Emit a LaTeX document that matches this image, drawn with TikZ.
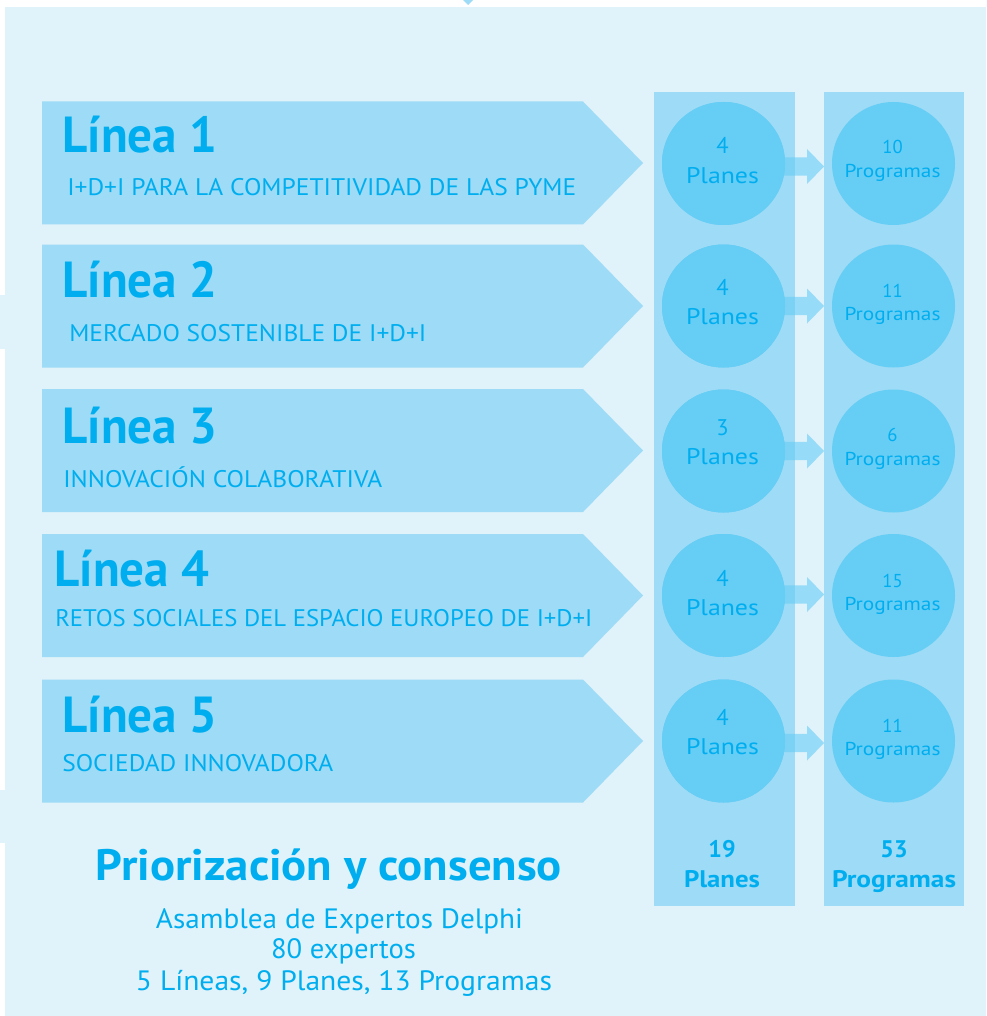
\documentclass[tikz,border=0pt]{standalone}
\usepackage{fontspec}
\setmainfont{PT Sans}
\usepackage{graphicx}
\usetikzlibrary{calc}
\definecolor{bgpanel}{HTML}{E0F2FA}
\definecolor{boxblue}{HTML}{9DDBF6}
\definecolor{circblue}{HTML}{66CDF5}
\definecolor{txtblue}{HTML}{00AEEF}
\newcommand\fw[2]{\resizebox{\dimexpr #1pt*3/4\relax}{\height}{#2}}
\tikzset{
  pentbox/.style={fill=boxblue},
  colbox/.style={fill=boxblue},
  disc/.style={circle, fill=circblue, minimum size=92.25pt, inner sep=0pt},
  flow/.style={fill=circblue, fill opacity=0.6},
  ttl/.style={anchor=base west, text=txtblue, inner sep=0pt, font=\bfseries\fontsize{38}{40}\selectfont},
  sub/.style={anchor=base west, text=txtblue, inner sep=0pt, font=\fontsize{18}{20}\selectfont},
  pnum/.style={anchor=base, text=txtblue, inner sep=0pt, font=\fontsize{17}{19}\selectfont},
  gnum/.style={anchor=base, text=txtblue, inner sep=0pt, font=\fontsize{14}{16}\selectfont},
  tot/.style={anchor=base, text=txtblue, inner sep=0pt, font=\bfseries\fontsize{18}{20}\selectfont},
  bigttl/.style={anchor=base, text=txtblue, inner sep=0pt, font=\bfseries\fontsize{33}{36}\selectfont},
  info/.style={anchor=base, text=txtblue, inner sep=0pt, font=\fontsize{21}{24}\selectfont}
}
\begin{document}
\begin{tikzpicture}[x=0.75pt, y=-0.75pt]
\useasboundingbox (0,0) rectangle (986,1016);
\fill[white] (0,0) rectangle (986,1016);
% background panel
\fill[bgpanel] (5,7.5) rectangle (986,1016);
\fill[bgpanel] (0,295) rectangle (5,349);
\fill[bgpanel] (0,790) rectangle (5,843);
\fill[boxblue] (463,0) -- (473,0) -- (468,5) -- cycle;
% columns
\fill[colbox] (654,92) rectangle (795,906);
\fill[colbox] (824,92) rectangle (964,906);
% pentagons
\foreach \t in {101.5,244.5,389,534,679.5}{
  \fill[pentbox] (42,\t) -- (583,\t) -- (643,\t+61.5) -- (583,\t+123) -- (42,\t+123) -- cycle;
}
% circles
\node[disc] (p1) at (723.5,163.5) {};
\node[disc] (p2) at (723.5,306) {};
\node[disc] (p3) at (723.5,451) {};
\node[disc] (p4) at (723.5,595.5) {};
\node[disc] (p5) at (723.5,741) {};
\node[disc] (g1) at (893.5,163.5) {};
\node[disc] (g2) at (893.5,306) {};
\node[disc] (g3) at (893.5,451) {};
\node[disc] (g4) at (893.5,595.5) {};
\node[disc] (g5) at (893.5,741) {};
% flow arrows
\foreach \i/\d in {1/3,2/0,3/0,4/-1,5/2}{
  \fill[flow] ($(p\i.center)+(47,\d-9.2)$) -- ($(p\i.center)+(83.5,\d-9.2)$) -- ($(p\i.center)+(83.5,\d-17.5)$)
     -- ($(g\i.center)+(-69.5,\d)$) -- ($(p\i.center)+(83.5,\d+17.5)$) -- ($(p\i.center)+(83.5,\d+9.2)$)
     -- ($(p\i.center)+(47,\d+9.2)$) -- cycle;
}
% redraw circles on top of arrow starts
\foreach \i in {1,...,5}{
  \fill[circblue] (p\i.center) circle[radius=61.5];
}
% titles
\node[ttl] (t1) at (62,153) {\fw{155}{Línea 1}};
\node[ttl] (t2) at (62,297) {\fw{155}{Línea 2}};
\node[ttl] (t3) at (62,443.5) {\fw{155}{Línea 3}};
\node[ttl] (t4) at (54,586) {\fw{155}{Línea 4}};
\node[ttl] (t5) at (62,732) {\fw{155}{Línea 5}};
% subtitles
\node[sub] (s1) at (67,195.5) {\fw{509}{I+D+I PARA LA COMPETITIVIDAD DE LAS PYME}};
\node[sub] (s2) at (69,341.5) {\fw{357}{MERCADO SOSTENIBLE DE I+D+I}};
\node[sub] (s3) at (63,487) {\fw{319}{INNOVACIÓN COLABORATIVA}};
\node[sub] (s4) at (55,626.5) {\fw{537}{RETOS SOCIALES DEL ESPACIO EUROPEO DE I+D+I}};
\node[sub] (s5) at (62,771.5) {\fw{271}{SOCIEDAD INNOVADORA}};
% circle texts
\node[pnum] (pn1) at ($(p1.center)+(-1,-9.7)$) {4};
\node[pnum] (pl1) at ($(p1.center)+(-1,20.3)$) {\fw{73}{Planes}};
\node[pnum] (pn2) at ($(p2.center)+(-1,-10.8)$) {4};
\node[pnum] (pl2) at ($(p2.center)+(-1,18)$) {\fw{73}{Planes}};
\node[pnum] (pn3) at ($(p3.center)+(-1,-16)$) {3};
\node[pnum] (pl3) at ($(p3.center)+(-1,13.3)$) {\fw{73}{Planes}};
\node[pnum] (pn4) at ($(p4.center)+(-1,-8.7)$) {4};
\node[pnum] (pl4) at ($(p4.center)+(-1,20.4)$) {\fw{73}{Planes}};
\node[pnum] (pn5) at ($(p5.center)+(-1,-16)$) {4};
\node[pnum] (pl5) at ($(p5.center)+(-1,13)$) {\fw{73}{Planes}};
\node[gnum] (gn1) at ($(g1.center)+(-1,-9.5)$) {10};
\node[gnum] (gl1) at ($(g1.center)+(-1,13.8)$) {\fw{96}{Programas}};
\node[gnum] (gn2) at ($(g2.center)+(-1,-9)$) {11};
\node[gnum] (gl2) at ($(g2.center)+(-1,14)$) {\fw{96}{Programas}};
\node[gnum] (gn3) at ($(g3.center)+(-1,-9.3)$) {6};
\node[gnum] (gl3) at ($(g3.center)+(-1,14)$) {\fw{96}{Programas}};
\node[gnum] (gn4) at ($(g4.center)+(-1,-8.5)$) {15};
\node[gnum] (gl4) at ($(g4.center)+(-1,15)$) {\fw{96}{Programas}};
\node[gnum] (gn5) at ($(g5.center)+(-1,-8.7)$) {11};
\node[gnum] (gl5) at ($(g5.center)+(-1,14)$) {\fw{96}{Programas}};
% totals
\node[tot] (tp1) at (722,857) {19};
\node[tot] (tp2) at (722,887) {\fw{76}{Planes}};
\node[tot] (tg1) at (894,857) {53};
\node[tot] (tg2) at (894,887) {\fw{124}{Programas}};
% bottom text
\node[bigttl] (prio) at (329,880) {\fw{466}{Priorización y consenso}};
\node[info] (i1) at (339.5,928) {\fw{367}{Asamblea de Expertos Delphi}};
\node[info] (i2) at (343.5,958) {\fw{145}{80 expertos}};
\node[info] (i3) at (344,990) {\fw{416}{5 Líneas, 9 Planes, 13 Programas}};
\end{tikzpicture}
\end{document}
